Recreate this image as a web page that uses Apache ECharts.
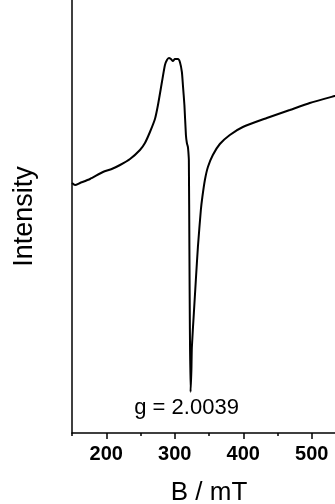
<!DOCTYPE html>
<html>
<head>
<meta charset="utf-8">
<script src="https://cdn.jsdelivr.net/npm/echarts@6/dist/echarts.min.js"></script>
<style>
  html, body { margin: 0; padding: 0; background: #fff; }
  #chart { width: 335px; height: 504px; }
</style>
</head>
<body>
<div id="chart"></div>
<script>
// EPR spectrum: magnetic field (mT) vs. signal intensity (arb. units)
const fieldMT = [
  150.0, 154.4, 161.7, 176.3, 195.2, 208.0, 220.1, 234.7, 249.2, 256.5,
  263.8, 271.1, 275.5, 281.3, 285.7, 288.6, 291.5, 294.4, 297.3, 300.2,
  304.6, 307.5, 310.4, 311.9, 314.1, 316.3, 317.7, 319.2, 319.9, 320.6,
  321.4, 322.1, 323.1, 324.3, 325.0, 327.9, 330.8, 333.8, 338.1, 340.3,
  344.0, 348.4, 355.6, 365.8, 380.4, 399.4, 434.4, 467.9, 497.1, 533.5,
  550.0
];
const intensity = [
  250, 248, 250, 254, 261, 264, 268, 274, 283, 290,
  301, 314, 328, 351, 368, 373, 375, 374, 372, 374,
  374, 371, 361, 348, 328, 298, 290, 286, 281, 273,
  183, 103, 41, 63, 86, 120, 153, 186, 223, 236,
  253, 266, 278, 289, 298, 306, 315, 323, 330, 337,
  340
];
const majorTicks = [200, 300, 400, 500];
const gLabel = 'g = 2.0039';

const minIdx = intensity.indexOf(Math.min(...intensity));

const chart = echarts.init(document.getElementById('chart'));
chart.setOption({
  animation: false,
  grid: { left: 72, right: -11, top: 0, bottom: 71, outerBoundsMode: 'none', containLabel: false },
  xAxis: [
    {
      type: 'value', min: 150, max: 550, interval: 50,
      name: 'B / mT', nameLocation: 'middle', nameGap: 47,
      nameTextStyle: { fontFamily: 'Liberation Sans', fontSize: 26, color: '#000' },
      axisLine: { show: true, lineStyle: { color: '#000', width: 1.5 } },
      axisTick: { show: true, inside: false, length: 3, lineStyle: { color: '#000', width: 1.5 } },
      axisLabel: { show: false },
      splitLine: { show: false }
    },
    {
      type: 'value', min: 150, max: 550, position: 'bottom',
      axisLine: { show: false },
      axisTick: { show: true, length: 6, customValues: majorTicks, lineStyle: { color: '#000', width: 1.5 } },
      axisLabel: {
        show: true, customValues: majorTicks, margin: 11,
        fontFamily: 'Liberation Sans', fontSize: 20, fontWeight: 'bold', color: '#000'
      },
      splitLine: { show: false }
    }
  ],
  yAxis: {
    type: 'value', min: 0, max: 433,
    name: 'Intensity', nameLocation: 'middle', nameGap: 34,
    nameTextStyle: { fontFamily: 'Liberation Sans', fontSize: 27, color: '#000' },
    axisLine: { show: true, lineStyle: { color: '#000', width: 1.5 } },
    axisTick: { show: false },
    axisLabel: { show: false },
    splitLine: { show: false }
  },
  series: [{
    type: 'line',
    xAxisIndex: 0,
    data: fieldMT.map((b, i) => [b, intensity[i]]),
    showSymbol: false,
    smooth: 0.2,
    lineStyle: { color: '#000', width: 2 },
    markPoint: {
      symbol: 'circle', symbolSize: 0,
      data: [{ coord: [fieldMT[minIdx], intensity[minIdx]] }],
      label: {
        show: true, formatter: gLabel, position: 'bottom', distance: 5, offset: [-4, 0],
        fontFamily: 'Liberation Sans', fontSize: 22, color: '#000'
      }
    }
  }]
});
</script>
</body>
</html>
